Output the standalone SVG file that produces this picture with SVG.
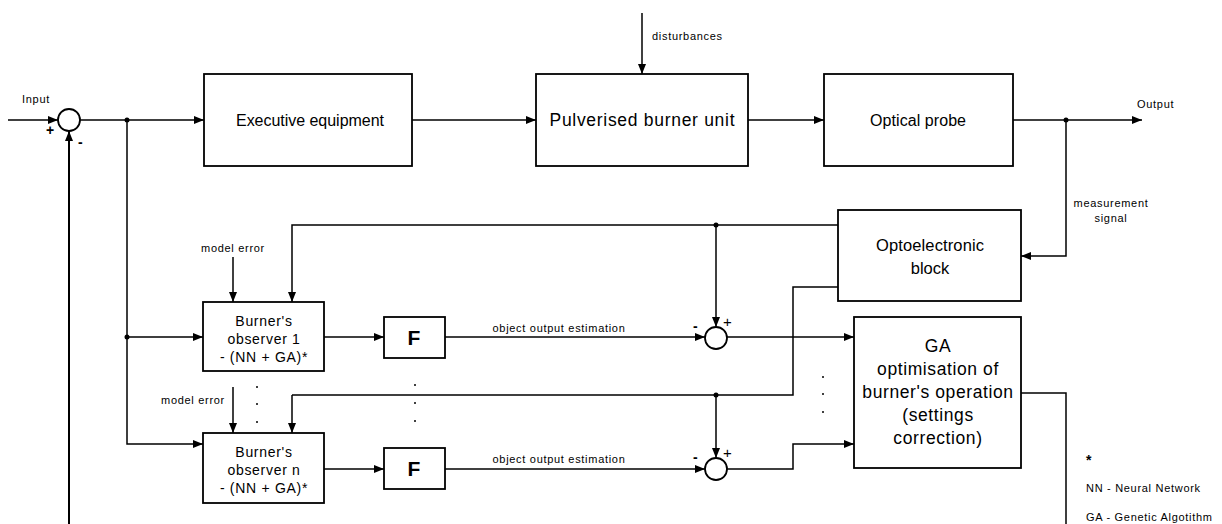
<svg xmlns="http://www.w3.org/2000/svg" width="1222" height="524" viewBox="0 0 1222 524">
<defs>
<marker id="ah" viewBox="0 0 10 8" refX="10" refY="4" markerWidth="10" markerHeight="8" markerUnits="userSpaceOnUse" orient="auto"><path d="M0,0 L10,4 L0,8 Z" fill="#000"/></marker>
<style>
.box{fill:#fff;stroke:#000;stroke-width:1.8}
.ln{fill:none;stroke:#000;stroke-width:1.5}
.lna{fill:none;stroke:#000;stroke-width:1.5;marker-end:url(#ah)}
.big{font-family:"Liberation Sans",Arial,sans-serif;font-size:16px;text-anchor:middle;fill:#000}
.ga{font-family:"Liberation Sans",Arial,sans-serif;font-size:17.5px;letter-spacing:0.6px;text-anchor:middle;fill:#000}
.mid{font-family:"Liberation Sans",Arial,sans-serif;font-size:14px;letter-spacing:0.7px;text-anchor:middle;fill:#000}
.sm{font-family:"Liberation Sans",Arial,sans-serif;font-size:11px;letter-spacing:0.7px;fill:#000}
.dot{fill:#000}
</style>
</defs>
<rect width="1222" height="524" fill="#fff"/>
<g id="connectors">
<path class="lna" d="M8,120 H58"/>
<path class="lna" d="M80,120 H204"/>
<path class="lna" d="M412,120 H536"/>
<path class="lna" d="M748,120 H824"/>
<path class="lna" d="M1013,120 H1142"/>
<path class="lna" d="M642,13 V74"/>
<path class="lna" d="M1066,120 V256 H1021"/>
<path class="lna" d="M69,524 V131" style="stroke-width:2"/>
<path class="lna" d="M127,120 V337 H203"/>
<path class="lna" d="M127,337 V444 H203"/>
<path class="lna" d="M838,225 H292 V302"/>
<path class="lna" d="M716,225 V327"/>
<path class="lna" d="M233,257 V302"/>
<path class="lna" d="M233,387 V433"/>
<path class="lna" d="M324,337 H384"/>
<path class="lna" d="M445,337 H705"/>
<path class="lna" d="M727,337 H854"/>
<path class="ln" d="M838,287 H793 V395 H292"/>
<path class="lna" d="M292,395 V433"/>
<path class="lna" d="M716,395 V458"/>
<path class="lna" d="M324,469 H384"/>
<path class="lna" d="M445,469 H705"/>
<path class="lna" d="M727,469 H793 V444 H854"/>
<path class="ln" d="M1021,393 H1066 V524"/>
<circle class="dot" cx="127" cy="120" r="2.5"/>
<circle class="dot" cx="127" cy="337" r="2.5"/>
<circle class="dot" cx="1066" cy="120" r="2.5"/>
<circle class="dot" cx="716" cy="225" r="2.5"/>
<circle class="dot" cx="716" cy="395" r="2.5"/>
</g>
<g id="sum0"><circle cx="69" cy="120" r="11" fill="#fff" stroke="#000" stroke-width="1.8"/>
<text class="sm" x="46" y="135" style="font-size:14px;font-weight:bold">+</text>
<text class="sm" x="78" y="147" style="font-size:14px;font-weight:bold">-</text></g>
<g id="sum1"><circle cx="716" cy="338" r="11" fill="#fff" stroke="#000" stroke-width="1.8"/>
<text class="sm" x="693" y="331" style="font-size:14px;font-weight:bold">-</text>
<text class="sm" x="723" y="327" style="font-size:15px">+</text></g>
<g id="sum2"><circle cx="716" cy="469" r="11" fill="#fff" stroke="#000" stroke-width="1.8"/>
<text class="sm" x="693" y="462" style="font-size:14px;font-weight:bold">-</text>
<text class="sm" x="723" y="458" style="font-size:15px">+</text></g>
<g id="exec"><rect class="box" x="204" y="74" width="208" height="92"/><text class="big" x="310" y="126" textLength="148">Executive equipment</text></g>
<g id="burner"><rect class="box" x="536" y="74" width="212" height="92"/><text class="big" x="642" y="126" style="font-size:17.5px" textLength="185">Pulverised burner unit</text></g>
<g id="probe"><rect class="box" x="824" y="74" width="189" height="92"/><text class="big" x="918" y="126" textLength="96">Optical probe</text></g>
<g id="opto"><rect class="box" x="838" y="210" width="183" height="91"/><text class="big" x="930" y="251" style="font-size:16.5px" textLength="108">Optoelectronic</text><text class="big" x="930" y="274" style="font-size:16.5px">block</text></g>
<g id="obs1"><rect class="box" x="203" y="302" width="121" height="69"/><text class="mid" x="264" y="326">Burner's</text><text class="mid" x="264" y="344">observer 1</text><text class="mid" x="264" y="362">- (NN + GA)*</text></g>
<g id="obsn"><rect class="box" x="203" y="433" width="121" height="70"/><text class="mid" x="264" y="457">Burner's</text><text class="mid" x="264" y="475">observer n</text><text class="mid" x="264" y="493">- (NN + GA)*</text></g>
<g id="f1"><rect class="box" x="384" y="317" width="61" height="41"/><text class="big" x="414" y="345" style="font-size:21px;font-weight:bold">F</text></g>
<g id="f2"><rect class="box" x="384" y="448" width="61" height="41"/><text class="big" x="414" y="476" style="font-size:21px;font-weight:bold">F</text></g>
<g id="ga"><rect class="box" x="854" y="317" width="167" height="151"/>
<text class="ga" x="938" y="352">GA</text><text class="ga" x="938" y="375">optimisation of</text><text class="ga" x="938" y="398">burner's operation</text><text class="ga" x="938" y="421">(settings</text><text class="ga" x="938" y="444">correction)</text></g>
<g id="labels">
<text class="sm" x="22" y="103">Input</text>
<text class="sm" x="1137" y="108">Output</text>
<text class="sm" x="652" y="40">disturbances</text>
<text class="sm" x="1111" y="207" text-anchor="middle">measurement</text>
<text class="sm" x="1111" y="222" text-anchor="middle">signal</text>
<text class="sm" x="233" y="252" text-anchor="middle">model error</text>
<text class="sm" x="193" y="404" text-anchor="middle">model error</text>
<text class="sm" x="559" y="332" text-anchor="middle">object output estimation</text>
<text class="sm" x="559" y="463" text-anchor="middle">object output estimation</text>
<text class="sm" x="1086" y="465" style="font-size:14px;font-weight:bold">*</text>
<text class="sm" x="1086" y="492">NN - Neural Network</text>
<text class="sm" x="1086" y="521">GA - Genetic Algotithm</text>
</g>
<g id="dots">
<circle class="dot" cx="257" cy="387" r="1"/><circle class="dot" cx="257" cy="404" r="1"/><circle class="dot" cx="257" cy="422" r="1"/>
<circle class="dot" cx="415" cy="385" r="1"/><circle class="dot" cx="415" cy="403" r="1"/><circle class="dot" cx="415" cy="421" r="1"/>
<circle class="dot" cx="823" cy="377" r="1"/><circle class="dot" cx="823" cy="394" r="1"/><circle class="dot" cx="823" cy="412" r="1"/>
</g>
</svg>
